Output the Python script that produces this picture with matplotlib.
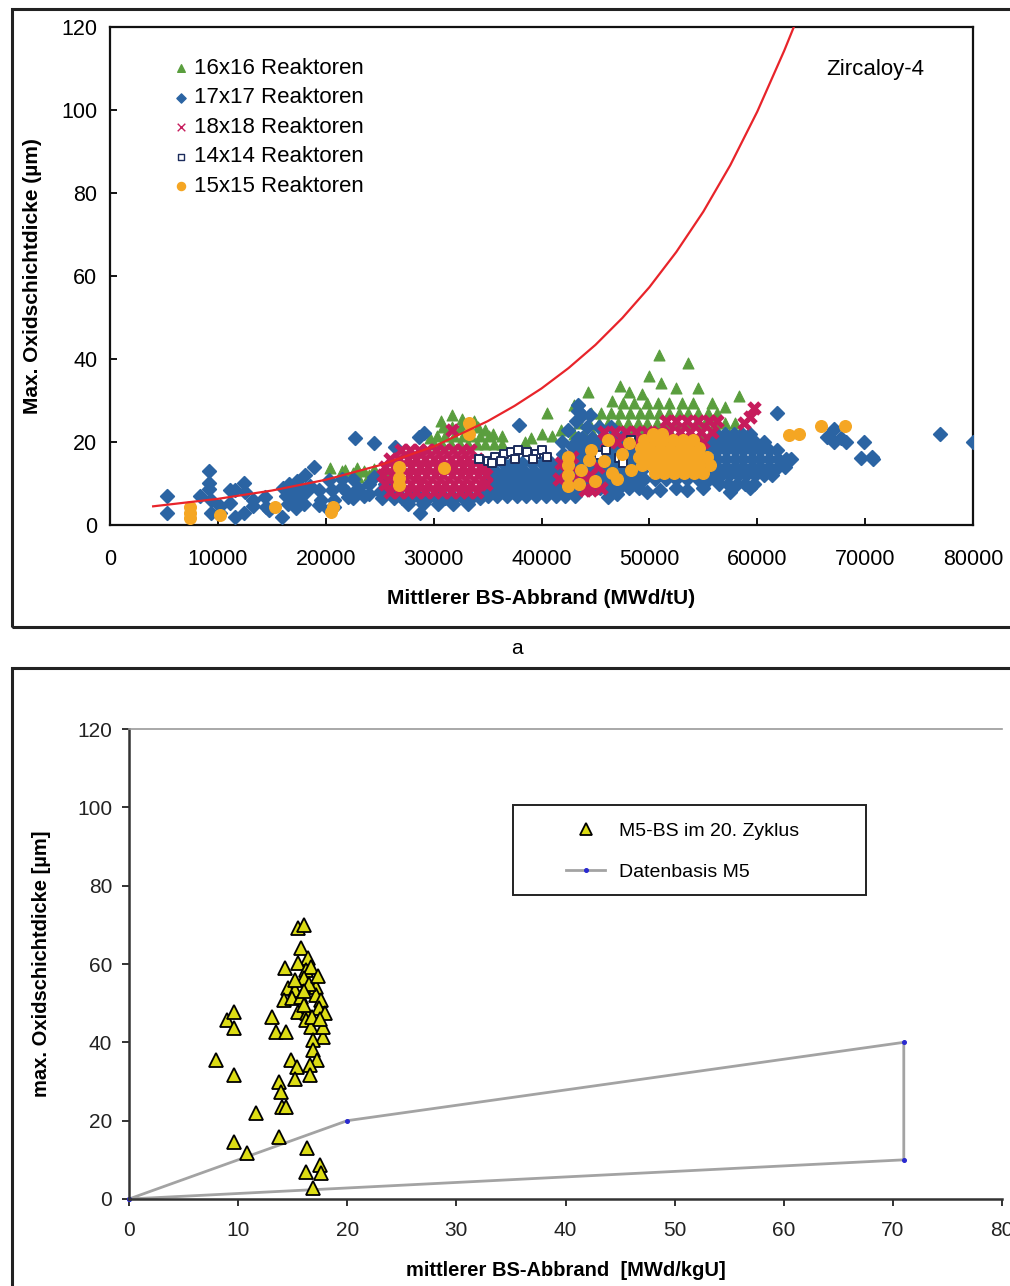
import matplotlib.pyplot as plt
from matplotlib.patches import Rectangle
from matplotlib.lines import Line2D

plt.rcParams['font.family'] = ['Liberation Sans', 'DejaVu Sans']

# ---------------- Zircaloy-4: max. oxide thickness vs. burnup ----------------
# single points as (MWd/tU, µm); dense clouds as rows (µm, [MWd/tU, ...])

r16_points = [
    (20400, 13.7), (21800, 13.3), (22900, 13.7), (21500, 13), (22500, 12.5), (23500, 13),
    (24500, 13.5), (25000, 12), (23000, 11.5), (24000, 12), (25800, 12.5),
    (31700, 26.5), (32600, 25.5), (30700, 25), (33700, 25), (34800, 23), (35500, 22),
    (36300, 21.5), (29700, 21),
    (40500, 27), (40000, 22), (41000, 21.5), (41800, 23), (39000, 21), (38500, 20),
    (50900, 41), (53600, 39), (50000, 36), (51100, 34.3), (48100, 32), (44300, 32),
    (52500, 33), (54500, 33), (58300, 31), (46500, 30), (49300, 31.5), (55800, 29.5),
    (43000, 29), (47300, 33.5), (57000, 28.5),
]
r16_rows = [
    (19.5, [30000, 30800, 31600, 32400, 33200, 34000, 34800, 35600, 36300]),
    (21.5, [30300, 31100, 31900, 32700, 33500, 34300, 35100]),
    (23.5, [30900, 31700, 32500, 33300, 34100]),
    (22, [43000, 43900, 44800, 45700, 46600, 47500, 48400, 49300, 50200, 51100, 52000,
          52900, 53800, 54700, 55600, 56500, 57400, 58300]),
    (24.5, [43500, 44400, 45300, 46200, 47100, 48000, 48900, 49800, 50700, 51600, 52500,
            53400, 54300, 55200, 56100, 57000, 57900]),
    (27, [44600, 45500, 46400, 47300, 48200, 49100, 50000, 50900, 51800, 52700, 53600,
          54500, 55400, 56300]),
    (29.5, [47600, 48600, 49800, 50800, 51800, 53000, 54000]),
]

r17_points = [
    (5300, 7.0), (5300, 2.9), (8300, 7.0), (9200, 13.0), (9200, 10.1), (9200, 8.7),
    (9400, 6.0), (9400, 2.9), (10200, 4.6), (10200, 2.9), (11100, 8.5), (11600, 8.5),
    (11100, 5.3), (11600, 2.0), (12400, 10.1), (12500, 8.0), (12400, 2.9), (13300, 6.0),
    (13300, 4.6), (14400, 6.8), (14500, 4.3), (14700, 3.6), (15900, 2.0), (16000, 9),
    (16300, 7), (16500, 5), (16800, 8), (17000, 6), (17200, 4), (17500, 9), (17700, 7),
    (18000, 5), (18200, 8), (16600, 10), (17300, 10.5), (18500, 9.5), (18100, 12.1),
    (18900, 14.0), (19400, 8.5), (19600, 6.0), (20300, 10.9), (20600, 8.5), (20800, 6.0),
    (21500, 9.2), (22100, 6.8), (20800, 4.3), (19400, 4.8), (20300, 3.6), (22700, 21.0),
    (22000, 8), (23000, 9), (24000, 10), (25000, 8), (23500, 7), (21500, 11), (22500, 11),
    (24500, 11.5), (25500, 10), (22500, 6.5), (24000, 7.5), (25200, 6.5),
    (24500, 19.8), (26400, 18.8), (28600, 21.3), (29100, 22.2), (28700, 2.9),
    (37900, 24.2), (42000, 17), (42800, 19), (43400, 21), (42500, 23), (43200, 25),
    (43400, 27.5), (41900, 20), (43400, 29), (44500, 26.5), (43800, 26.5),
    (46200, 6.8), (47000, 7.5), (49800, 8), (51000, 8.5), (52500, 9), (53500, 8.5), (55000, 9),
    (63100, 16), (61800, 27), (57500, 8), (59300, 9),
    (67100, 23.2), (66500, 21.3), (67100, 20), (67800, 21), (68200, 20), (69900, 20),
    (69600, 16.2), (70600, 16.4), (70700, 16), (76900, 22), (80000, 20),
]
r17_rows = [
    (5, [27600, 29000, 30400, 31800, 33200]),
    (6.5, [26300, 27100, 27900, 28700, 29500, 30300, 31100, 31900, 32700, 33500, 34300]),
    (7, [35000, 35900, 36800, 37700, 38600, 39500, 40400, 41300, 42200, 43100]),
    (9, [34800, 35600, 36500, 37400, 38300, 39200, 40100, 41000, 41900, 42800, 43600,
         44500, 45400, 46300, 47200, 48100, 49000]),
    (11, [35100, 36000, 36900, 37800, 38700, 39600, 40500, 41400, 42300, 43200, 44100,
          45000, 45900, 46800, 47700, 48600, 49500, 50500, 51500, 52500, 53500, 54500, 55500]),
    (13, [34900, 35700, 36600, 37500, 38400, 39300, 40200, 41100, 42000, 42900, 43800,
          44700, 45600, 46500, 47400, 48300, 49200]),
    (15, [35500, 36400, 37300, 38200, 39100, 40000, 40900, 41800, 42700, 43600, 44500,
          45400, 46300, 47200, 48100, 49000]),
    (17, [43200, 44100, 45000, 45900, 46800, 47700, 48600]),
    (19, [43500, 44400, 45300, 46200, 47100, 48000]),
    (21, [43800, 44700, 45600, 46500, 47400]),
    (23.5, [44200, 45300, 46400]),
    (10, [56500, 57300, 58100, 58900, 59700]),
    (12, [55800, 56600, 57400, 58200, 59000, 59800, 60600, 61400]),
    (14, [55500, 56300, 57100, 57900, 58700, 59500, 60300, 61100, 61900, 62600]),
    (16, [55500, 56300, 57100, 57900, 58700, 59500, 60300, 61100, 61900, 62700]),
    (18, [55500, 56300, 57100, 57900, 58700, 59500, 60300, 61100, 61800]),
    (20, [55800, 56600, 57400, 58200, 59000, 59800, 60600]),
    (22, [56200, 57000, 57800, 58600, 59300]),
]

r18_points = [
    (31700, 23), (41600, 11), (42300, 13), (41800, 15), (43000, 10), (44000, 8.5),
    (44800, 10), (45500, 9), (43500, 12.5), (44500, 12), (45200, 14), (42800, 16.5),
    (44600, 8.5), (59700, 28.3), (59300, 26), (58800, 24.5),
]
r18_rows = [
    (8, [26000, 26800, 27600, 28400, 29200, 30000, 30800, 31600, 32400, 33200, 34000]),
    (10, [25500, 26300, 27100, 27900, 28700, 29500, 30300, 31100, 31900, 32700, 33500,
          34300, 34900]),
    (12, [25300, 26100, 26900, 27700, 28500, 29300, 30100, 30900, 31700, 32500, 33300,
          34100, 34900]),
    (14, [25500, 26300, 27100, 27900, 28700, 29500, 30300, 31100, 31900, 32700, 33500,
          34300, 34800]),
    (16, [26000, 26800, 27600, 28400, 29200, 30000, 30800, 31600, 32400, 33200, 34000]),
    (18, [27000, 27800, 28600, 29400, 30200, 31000, 31800, 32600, 33400]),
    (20, [46000, 47000, 48000, 49000, 50000, 51000, 52000, 53000, 54000, 55000]),
    (22.5, [45800, 46800, 47800, 48800, 49800, 50800, 51800, 52800, 53800, 54800, 55800]),
    (25, [51500, 52500, 53500, 54500, 55500, 56300]),
]

r14_points = [
    (34200, 16), (35000, 15.5), (35700, 16.5), (36500, 17), (37200, 17.5), (37800, 18),
    (38700, 17.5), (39500, 17), (40000, 18), (40500, 16.5), (35400, 15), (37500, 16),
    (36200, 15.5), (39200, 16), (45300, 16.9), (47200, 16.2), (48300, 20.5), (47600, 15),
    (46000, 18),
]

r15_points = [
    (7400, 4.3), (7400, 3.0), (7400, 1.8), (10200, 2.4), (15300, 4.3), (20700, 4.3),
    (20500, 3.2), (26800, 14), (26800, 11.4), (26800, 9.7), (31000, 13.8), (33300, 22),
    (33300, 24.6), (42500, 9.5), (42500, 12), (42500, 14.5), (42500, 16.4),
    (43700, 13.3), (44600, 18.1), (46200, 20.5), (46500, 12.6), (48100, 19.8),
    (48300, 13.3), (44400, 15.7), (45000, 10.5), (47000, 11), (47500, 17), (45800, 15.5),
    (43500, 10), (62900, 21.7), (63900, 22), (65900, 23.9), (68100, 23.9),
]
r15_rows = [
    (12.5, [50500, 51400, 52300, 53200, 54100, 55000]),
    (14.5, [49300, 50200, 51100, 52000, 52900, 53800, 54700, 55600]),
    (16.5, [49000, 49900, 50800, 51700, 52600, 53500, 54400, 55300]),
    (18.5, [49200, 50100, 51000, 51900, 52800, 53700, 54600]),
    (20.5, [49500, 50400, 51300, 52200, 53100, 54000]),
    (22, [50300, 51200]),
]

# upper limit curve
limit_x = [4000, 10000, 15000, 20000, 25000, 30000, 35000, 37500, 40000, 42500, 45000,
           47500, 50000, 52500, 55000, 57500, 60000, 62500, 63500]
limit_y = [4.5, 6.3, 8.3, 10.9, 14.4, 18.9, 25.0, 28.7, 32.9, 37.8, 43.4,
           49.9, 57.3, 65.8, 75.5, 86.7, 99.6, 114.3, 120.7]

# ---------------- M5: max. oxide thickness vs. burnup ----------------
m5_cycle20 = [
    (15.5, 69.2), (16.0, 70.0), (15.8, 64), (16.4, 61.5), (14.3, 59), (15.5, 60.3),
    (16.2, 58.5), (16.7, 59.2), (16.0, 56.4), (14.6, 53.9), (15.2, 53.4), (17.1, 54.1),
    (14.2, 50.8), (14.9, 51.3), (15.8, 51.6), (17.1, 52.1), (17.6, 50.8), (15.5, 47.7),
    (16.3, 47.5), (17.4, 48.8), (18.0, 47.5), (13.1, 46.5), (9.0, 45.7), (9.6, 47.7),
    (9.6, 43.7), (13.5, 42.6), (14.4, 42.6), (16.2, 45.7), (16.7, 43.9), (17.8, 41.4),
    (16.9, 40.6), (16.9, 38), (8.0, 35.5), (14.8, 35.5), (17.2, 35.5), (15.4, 33.7),
    (16.6, 34.2), (16.6, 31.7), (9.6, 31.7), (15.2, 30.6), (13.7, 29.9), (13.9, 27.3),
    (14.0, 23.5), (14.4, 23.5), (11.6, 22), (13.7, 15.8), (9.6, 14.6), (10.8, 11.7),
    (16.3, 13.0), (16.2, 6.9), (17.5, 8.7), (17.6, 6.6), (16.9, 2.8),
    (16.5, 55), (17.3, 57), (16.0, 49.5), (17.8, 44), (16.8, 46.5), (15.2, 56),
    (17.5, 46), (16.0, 53),
]
m5_base_x = [0, 20, 71, 71, 0]
m5_base_y = [0, 20, 40, 10, 0]


def unpack(points, rows=()):
    xs = [p[0] for p in points]
    ys = [p[1] for p in points]
    for y, row in rows:
        xs += row
        ys += [y] * len(row)
    return xs, ys


W, H = 1010, 1286
fig = plt.figure(figsize=(W / 100, H / 100), dpi=100)


def fx(px):
    return px / W


def fy(py):
    return 1 - py / H


# panel frames
for top, bottom in [(9, 627), (668, 1310)]:
    fig.add_artist(Rectangle((fx(12), fy(bottom)), fx(1040 - 12), (bottom - top) / H,
                             transform=fig.transFigure, fill=False, lw=2.2,
                             edgecolor='#222222', clip_on=False))

# ---- top chart ----
ax1 = fig.add_axes([fx(110), fy(525), fx(973 - 110), (525 - 27) / H])

green, blue, magenta, navy, orange = '#5a9e3e', '#2b64a3', '#c61c5c', '#1c2c5c', '#f5a623'

x, y = unpack(r16_points, r16_rows)
ax1.scatter(x, y, marker='^', s=62, color=green, edgecolors=green, linewidths=0.8,
            label='16x16 Reaktoren', zorder=2)
x, y = unpack(r17_points, r17_rows)
ax1.scatter(x, y, marker='D', s=46, color=blue, edgecolors=blue, linewidths=1.4,
            label='17x17 Reaktoren', zorder=3)
x, y = unpack(r18_points, r18_rows)
ax1.scatter(x, y, marker='x', s=62, color=magenta, linewidths=3.6,
            label='18x18 Reaktoren', zorder=4)
x, y = unpack(r14_points)
ax1.scatter(x, y, marker='s', s=28, facecolors='white', edgecolors=navy, linewidths=1.4,
            label='14x14 Reaktoren', zorder=5)
x, y = unpack(r15_points, r15_rows)
ax1.scatter(x, y, marker='o', s=70, color=orange, edgecolors=orange, linewidths=1.0,
            label='15x15 Reaktoren', zorder=6)

ax1.plot(limit_x, limit_y, color='#e8242a', lw=1.6, zorder=7)

ax1.set_xlim(0, 80000)
ax1.set_ylim(0, 120)
ax1.set_xticks(range(0, 80001, 10000))
ax1.set_yticks(range(0, 121, 20))
ax1.tick_params(direction='in', length=5, width=1.3, labelsize=15.5)
ax1.tick_params(axis='x', pad=17)
ax1.tick_params(axis='y', pad=9)
for s in ax1.spines.values():
    s.set_linewidth(1.6)
    s.set_color('#111111')
ax1.set_xlabel('Mittlerer BS-Abbrand (MWd/tU)', fontsize=15, fontweight='bold', labelpad=14)
ax1.set_ylabel('Max. Oxidschichtdicke (µm)', fontsize=15, fontweight='bold', labelpad=14)
ax1.text(0.83, 0.915, 'Zircaloy-4', transform=ax1.transAxes, fontsize=16, va='center')
leg = ax1.legend(loc='upper left', bbox_to_anchor=(0.06, 0.96), frameon=False, fontsize=16,
                 handlelength=0.7, handletextpad=0.25, labelspacing=0.38, borderpad=0,
                 scatterpoints=1)
for h, size in zip(leg.legend_handles, [30, 22, 30, 20, 34]):
    h.set_sizes([size])
    h.set_linewidths([1.0])

fig.text(fx(517), fy(648), 'a', fontsize=15, ha='center', va='center')

# ---- bottom chart ----
ax2 = fig.add_axes([fx(129), fy(1199), fx(1002 - 129), (1199 - 729) / H])
ax2.plot(m5_base_x, m5_base_y, color='#a3a3a3', lw=2.0, marker='o', markersize=2.6,
         markerfacecolor='#2a2ad0', markeredgecolor='#2a2ad0', zorder=2, clip_on=False)
x, y = unpack(m5_cycle20)
ax2.plot(x, y, linestyle='none', marker='^', markersize=10, markerfacecolor='#dcdc14',
         markeredgecolor='black', markeredgewidth=1.3, zorder=3)

ax2.set_xlim(0, 80)
ax2.set_ylim(0, 120)
ax2.set_xticks(range(0, 81, 10))
ax2.set_yticks(range(0, 121, 20))
ax2.tick_params(direction='out', length=5, width=1.3, labelsize=15, colors='#222222')
ax2.tick_params(axis='x', pad=11)
ax2.tick_params(axis='y', pad=7)
ax2.spines['right'].set_visible(False)
ax2.spines['top'].set_color('#9a9a9a')
ax2.spines['top'].set_linewidth(1.2)
for side in ('left', 'bottom'):
    ax2.spines[side].set_color('#333333')
    ax2.spines[side].set_linewidth(1.8)
ax2.set_xlabel('mittlerer BS-Abbrand  [MWd/kgU]', fontsize=14.5, fontweight='bold',
               labelpad=15)
ax2.set_ylabel('max. Oxidschichtdicke [µm]', fontsize=14.5, fontweight='bold', labelpad=19)

ax2.add_patch(Rectangle((0.44, 0.647), 0.404, 0.191, transform=ax2.transAxes, fill=False,
                        lw=1.4, edgecolor='#222222', zorder=5))
handles = [
    Line2D([], [], linestyle='none', marker='^', markersize=9, markerfacecolor='#dcdc14',
           markeredgecolor='black', markeredgewidth=1.3),
    Line2D([], [], color='#a3a3a3', lw=2.0, marker='o', markersize=2.6,
           markerfacecolor='#2a2ad0', markeredgecolor='#2a2ad0'),
]
ax2.legend(handles, ['M5-BS im 20. Zyklus', 'Datenbasis M5'], loc='upper left',
           bbox_to_anchor=(0.49, 0.822), frameon=False, fontsize=14, handlelength=2.0,
           handletextpad=0.7, labelspacing=1.2, borderpad=0)

fig.savefig('out.png', dpi=100)
